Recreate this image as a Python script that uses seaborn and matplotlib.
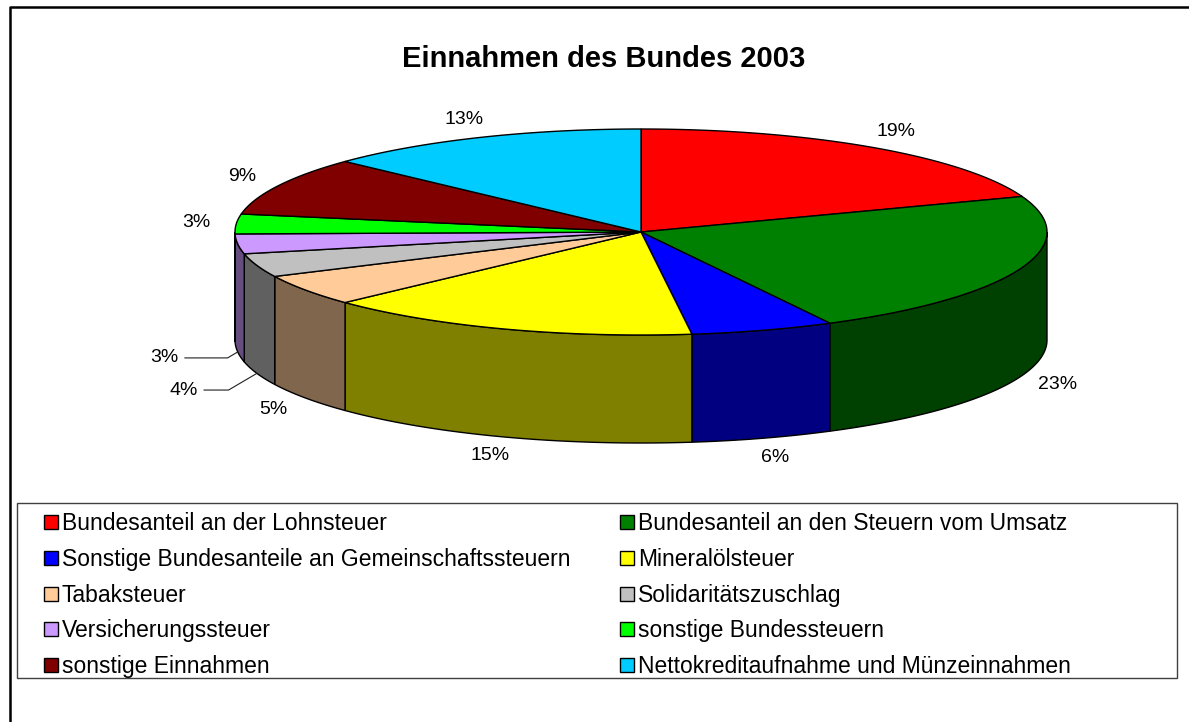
import numpy as np
import matplotlib
matplotlib.use("Agg")
import matplotlib.pyplot as plt
from matplotlib.patches import Polygon, Patch, Rectangle
import seaborn as sns

title = "Einnahmen des Bundes 2003"
categories = [
    "Bundesanteil an der Lohnsteuer",
    "Bundesanteil an den Steuern vom Umsatz",
    "Sonstige Bundesanteile an Gemeinschaftssteuern",
    "Mineralölsteuer",
    "Tabaksteuer",
    "Solidaritätszuschlag",
    "Versicherungssteuer",
    "sonstige Bundessteuern",
    "sonstige Einnahmen",
    "Nettokreditaufnahme und Münzeinnahmen",
]
# shares in percent
shares = [19.4, 22.9, 5.7, 15.0, 4.9, 3.7, 3.1, 3.1, 9.2, 13.0]
colors = ["#FF0000", "#008000", "#0000FF", "#FFFF00", "#FFCC99",
          "#C0C0C0", "#CC99FF", "#00FF00", "#800000", "#00CCFF"]

sns.set_theme(style="white")
plt.rcParams["font.family"] = ["Liberation Sans", "DejaVu Sans"]
plt.rcParams["text.color"] = "black"

W, H = 1189, 722
fig = plt.figure(figsize=(W / 100, H / 100), dpi=100)
ax = fig.add_axes([0, 0, 1, 1])
ax.set_xlim(0, W)
ax.set_ylim(H, 0)
ax.axis("off")

# 3d pie geometry (pixel space)
cx, cy = 641, 232
rx, ry = 406, 103
depth = 108

pal = sns.color_palette(colors)
dark = [tuple(v * 0.5 for v in c) for c in pal]

vals = np.array(shares, dtype=float)
pct = vals / vals.sum() * 100
bounds = 90 - 360 * np.concatenate([[0], np.cumsum(vals)]) / vals.sum()


def arc(t0, t1, dy=0):
    n = max(int(abs(t1 - t0)) * 3, 2)
    t = np.radians(np.linspace(t0, t1, n))
    return np.column_stack([cx + rx * np.cos(t), cy - ry * np.sin(t) + dy])


# side walls (front half only)
for i in range(len(vals)):
    a, b = bounds[i], bounds[i + 1]
    hi, lo = min(a, 0), max(b, -180)
    if hi > lo:
        pts = np.vstack([arc(hi, lo), arc(lo, hi, dy=depth)])
        ax.add_patch(Polygon(pts, closed=True, fc=dark[i], ec="black", lw=1))

# top faces
for i in range(len(vals)):
    a, b = bounds[i], bounds[i + 1]
    pts = np.vstack([[cx, cy], arc(a, b)])
    ax.add_patch(Polygon(pts, closed=True, fc=pal[i], ec="black", lw=1))

# percentage labels
for i in range(len(vals)):
    m = np.radians((bounds[i] + bounds[i + 1]) / 2)
    s, c = np.sin(m), np.cos(m)
    front = s < 0
    if vals[i] < 4.5 and front:
        px = cx + rx * c
        py = cy - ry * s + depth
        ly = py + 0.5 * (py - cy - depth)
        lx = px - 73
        ex = px - 1.7 * (ly - py)
        ax.plot([px, ex, lx + 20], [py, ly, ly], color="#202020", lw=0.8)
    else:
        lx = cx + (rx + 40) * c
        ly = cy - (ry + 20) * s + (depth if front else 0)
    ax.text(lx, ly, f"{pct[i]:.0f}%", ha="center", va="center", fontsize=14)

ax.text(604, 67, title, ha="center", va="baseline", fontsize=21, fontweight="bold")

# chart area border
ax.plot([10, 10, W + 5], [H + 5, 7, 7], color="black", lw=1.8)

# legend, row-major like the original
order = list(range(0, 10, 2)) + list(range(1, 10, 2))
handles = [Patch(facecolor=pal[i], edgecolor="black", lw=1, label=categories[i]) for i in order]
fs = 16.5


def make_legend(colsp):
    return ax.legend(handles=handles, ncol=2, frameon=False, loc="upper left",
                     bbox_to_anchor=(44 / W, 1 - 512 / H), borderaxespad=0, borderpad=0,
                     handlelength=0.6, handleheight=0.57, handletextpad=0.18,
                     labelspacing=0.56, columnspacing=colsp, fontsize=fs)


leg = make_legend(1.0)
fig.canvas.draw()
r = fig.canvas.get_renderer()
col2_left = min(h.get_window_extent(r).x0 for h in leg.legend_handles[5:])
shift = 620 - col2_left
leg.remove()
leg = make_legend(1.0 + shift / (fs * 100 / 72))

ax.add_patch(Rectangle((17, 503), 1160, 175, fill=False, ec="#404040", lw=1))

fig.savefig("out.png", dpi=100)
